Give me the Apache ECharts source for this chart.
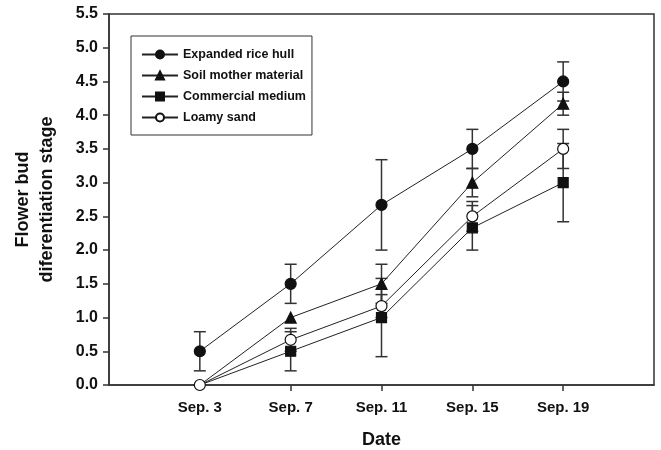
<!DOCTYPE html>
<html>
<head>
<meta charset="utf-8">
<script src="https://cdn.jsdelivr.net/npm/echarts@6/dist/echarts.min.js"></script>
<style>
  html, body { margin: 0; padding: 0; background: #fff; }
  #chart { width: 661px; height: 450px; }
</style>
</head>
<body>
<div id="chart"></div>
<script>
(function () {
  const dates = ['Sep. 3', 'Sep. 7', 'Sep. 11', 'Sep. 15', 'Sep. 19'];
  const yTicks = [0, 0.5, 1, 1.5, 2, 2.5, 3, 3.5, 4, 4.5, 5, 5.5];

  const riceHull = [0.5, 1.5, 2.67, 3.5, 4.5];
  const riceHullErr = [0.29, 0.29, 0.67, 0.29, 0.29];
  const soilMother = [0, 1.0, 1.5, 3.0, 4.17];
  const soilMotherErr = [0, 0, 0.29, 0.21, 0.17];
  const commercial = [0, 0.5, 1.0, 2.33, 3.0];
  const commercialErr = [0, 0.29, 0.58, 0.33, 0.58];
  const loamySand = [0, 0.67, 1.17, 2.5, 3.5];
  const loamySandErr = [0, 0.17, 0.17, 0.22, 0.29];

  const font = '"Liberation Sans", Arial, sans-serif';
  const ink = '#111';
  const positions = dates.map((d, i) => i + 1);

  // series without a marker at the first date (only the lines start there)
  function points(values, hideZeroMarker) {
    return values.map((v, i) => {
      if (hideZeroMarker && v === 0) return { value: [positions[i], v], symbol: 'none' };
      return [positions[i], v];
    });
  }

  function errorData(values, errs) {
    const out = [];
    values.forEach((v, i) => {
      if (errs[i] > 0) out.push([positions[i], v - errs[i], v + errs[i]]);
    });
    return out;
  }

  function errorSeries(values, errs) {
    return {
      type: 'custom',
      z: 1,
      silent: true,
      data: errorData(values, errs),
      renderItem: function (params, api) {
        const x = api.value(0);
        const lo = api.coord([x, api.value(1)]);
        const hi = api.coord([x, api.value(2)]);
        const w = 6;
        const style = { stroke: '#333', lineWidth: 1.5 };
        return {
          type: 'group',
          children: [
            { type: 'line', shape: { x1: lo[0], y1: lo[1], x2: hi[0], y2: hi[1] }, style: style },
            { type: 'line', shape: { x1: lo[0] - w, y1: lo[1], x2: lo[0] + w, y2: lo[1] }, style: style },
            { type: 'line', shape: { x1: hi[0] - w, y1: hi[1], x2: hi[0] + w, y2: hi[1] }, style: style }
          ]
        };
      }
    };
  }

  function lineSeries(name, values, symbol, size, fill, hideZero) {
    return {
      name: name,
      type: 'line',
      z: 3,
      symbol: symbol,
      symbolSize: size,
      showSymbol: true,
      clip: false,
      data: points(values, hideZero),
      lineStyle: { color: '#222', width: 1 },
      itemStyle: { color: fill, borderColor: ink, borderWidth: 1.2 },
      emphasis: { disabled: true }
    };
  }

  const option = {
    animation: false,
    backgroundColor: '#fff',
    grid: {
      left: 109, right: 7, top: 14, bottom: 65,
      outerBoundsMode: 'none',
      show: true, borderColor: '#333', borderWidth: 1.5
    },
    legend: {
      orient: 'vertical',
      left: 131,
      top: 36,
      padding: [12, 6, 11, 10],
      itemGap: 8,
      itemWidth: 36,
      itemHeight: 10,
      borderColor: '#333',
      borderWidth: 1,
      data: ['Expanded rice hull', 'Soil mother material', 'Commercial medium', 'Loamy sand'],
      textStyle: { fontFamily: font, fontWeight: 'bold', fontSize: 12.5, color: ink }
    },
    xAxis: {
      type: 'value',
      min: 0,
      max: 6,
      interval: 1,
      name: 'Date',
      nameLocation: 'middle',
      nameGap: 46,
      nameTextStyle: { fontFamily: font, fontWeight: 'bold', fontSize: 18, color: ink },
      splitLine: { show: false },
      axisLine: { lineStyle: { color: '#333', width: 1.5 } },
      axisTick: { inside: false, length: 6, customValues: positions, lineStyle: { color: '#333', width: 1.5 } },
      axisLabel: {
        customValues: positions,
        margin: 15,
        formatter: v => dates[Math.round(v) - 1] || '',
        fontFamily: font, fontWeight: 'bold', fontSize: 15, color: ink
      }
    },
    yAxis: {
      type: 'value',
      min: 0,
      max: 5.5,
      interval: 0.5,
      name: 'Flower bud\ndiferentiation stage',
      nameLocation: 'middle',
      nameGap: 50,
      nameTextStyle: { fontFamily: font, fontWeight: 'bold', fontSize: 18, color: ink, lineHeight: 24 },
      splitLine: { show: false },
      axisLine: { show: true, lineStyle: { color: '#333', width: 1.5 } },
      axisTick: { inside: false, length: 6, customValues: yTicks, lineStyle: { color: '#333', width: 1.5 } },
      axisLabel: {
        margin: 11,
        formatter: v => v.toFixed(1),
        fontFamily: font, fontWeight: 'bold', fontSize: 16, color: ink
      }
    },
    series: [
      errorSeries(riceHull, riceHullErr),
      errorSeries(soilMother, soilMotherErr),
      errorSeries(commercial, commercialErr),
      errorSeries(loamySand, loamySandErr),
      lineSeries('Expanded rice hull', riceHull, 'circle', 11, ink, false),
      lineSeries('Soil mother material', soilMother, 'triangle', 11, ink, true),
      lineSeries('Commercial medium', commercial, 'rect', 10, ink, true),
      lineSeries('Loamy sand', loamySand, 'circle', 11, '#fff', false)
    ]
  };

  const chart = echarts.init(document.getElementById('chart'));
  chart.setOption(option);
})();
</script>
</body>
</html>
